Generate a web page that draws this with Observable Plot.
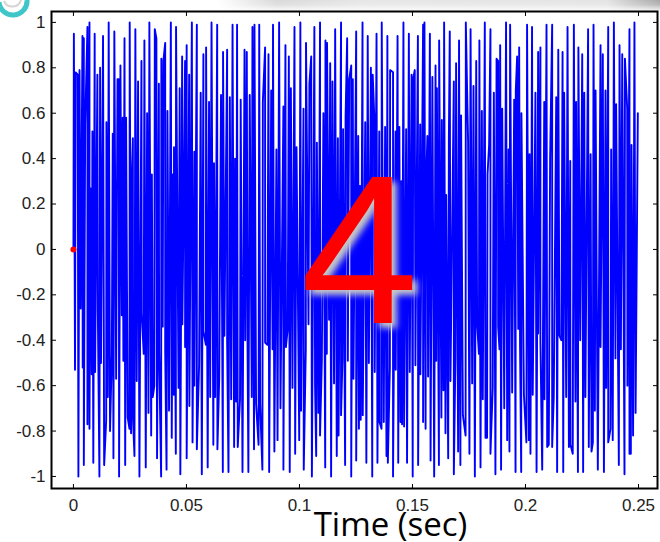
<!DOCTYPE html>
<html>
<head>
<meta charset="utf-8">
<script src="https://cdn.jsdelivr.net/npm/d3@7"></script>
<script src="https://cdn.jsdelivr.net/npm/@observablehq/plot@0.6"></script>
<style>
  html, body { margin: 0; padding: 0; background: #fff; }
  #page { position: relative; width: 660px; height: 542px; overflow: hidden; }
  #band { position: absolute; left: 0; top: 0; width: 660px; height: 12px;
    background:
      linear-gradient(to bottom, rgba(255,255,255,0) 0%, rgba(255,255,255,0.2) 40%, #fff 100%),
      linear-gradient(to right, #fff 0%, #fff 33%, #d9d9d9 42%, #e6e6e6 55%, #e3e3e3 92%, #a8a8a8 100%); }
  #curl { position: absolute; left: 0; top: 0; }
  #chart { position: absolute; left: 0; top: 0; }
</style>
</head>
<body>
<div id="page">
  <div id="band"></div>
  <svg id="curl" width="40" height="22"><path d="M-1,2 A14,14 0 0 0 27,0" fill="none" stroke="#3fc6c9" stroke-width="5"/><path d="M4,1 A9,9 0 0 0 21,0" fill="none" stroke="#d5d5d5" stroke-width="2"/></svg>
  <div id="chart"></div>
</div>
<script>
// Key "4" tone: upper crests and lower troughs of the waveform, [time (s), amplitude]
const startSample = [0, 0];
const crests = [
  [0.0002,0.95],[0.0010,0.78],[0.0019,0.77],[0.0027,0.79],[0.0040,0.94],[0.0046,0.93],[0.0052,0.55],[0.0062,0.98],
  [0.0071,1.00],[0.0075,0.27],[0.0084,0.52],[0.0094,0.95],[0.0106,0.77],[0.0118,0.80],[0.0131,0.94],[0.0146,0.56],
  [0.0156,1.00],[0.0174,0.51],[0.0181,0.96],[0.0195,0.75],[0.0201,0.75],[0.0208,0.81],[0.0218,0.58],[0.0226,0.93],
  [0.0233,0.58],[0.0249,1.00],[0.0258,0.30],[0.0263,0.49],[0.0274,0.97],[0.0286,0.74],[0.0301,0.83],[0.0314,0.92],
  [0.0326,0.60],[0.0336,1.00],[0.0347,0.33],[0.0360,0.97],[0.0367,0.93],[0.0378,0.73],[0.0389,0.84],[0.0398,0.83],
  [0.0406,0.91],[0.0416,0.61],[0.0431,1.00],[0.0440,0.33],[0.0445,0.45],[0.0454,0.98],[0.0470,0.71],[0.0481,0.85],
  [0.0494,0.83],[0.0501,0.90],[0.0512,0.77],[0.0524,1.00],[0.0535,0.43],[0.0546,0.99],[0.0563,0.69],[0.0575,0.86],
  [0.0587,0.89],[0.0600,0.65],[0.0611,1.00],[0.0622,0.38],[0.0636,0.99],[0.0653,0.68],[0.0662,0.87],[0.0680,0.88],
  [0.0692,0.67],[0.0704,0.99],[0.0715,0.40],[0.0724,0.99],[0.0740,0.66],[0.0757,0.88],[0.0767,0.87],[0.0780,0.68],
  [0.0792,0.98],[0.0801,0.99],[0.0822,0.99],[0.0838,0.65],[0.0848,0.89],[0.0863,0.86],[0.0875,0.70],[0.0883,0.99],
  [0.0898,0.44],[0.0910,1.00],[0.0929,0.63],[0.0938,0.90],[0.0953,0.85],[0.0962,0.71],[0.0978,0.98],[0.0987,0.45],
  [0.1004,1.00],[0.1018,0.62],[0.1029,0.91],[0.1044,0.73],[0.1052,0.85],[0.1066,0.98],[0.1077,0.47],[0.1091,1.00],
  [0.1106,0.60],[0.1115,0.92],[0.1122,0.91],[0.1136,0.82],[0.1146,0.74],[0.1158,0.97],[0.1170,0.49],[0.1184,1.00],
  [0.1193,0.53],[0.1204,0.58],[0.1211,0.93],[0.1220,0.75],[0.1229,0.81],[0.1236,0.75],[0.1251,0.96],[0.1260,0.50],
  [0.1268,0.28],[0.1279,1.00],[0.1291,0.56],[0.1302,0.94],[0.1316,0.80],[0.1324,0.77],[0.1332,0.56],[0.1341,0.95],
  [0.1353,0.52],[0.1364,1.00],[0.1379,0.54],[0.1389,0.94],[0.1401,0.79],[0.1414,0.78],[0.1425,0.52],[0.1434,0.94],
  [0.1442,0.54],[0.1451,0.30],[0.1460,1.00],[0.1472,0.53],[0.1484,0.95],[0.1496,0.77],[0.1503,0.75],[0.1510,0.79],
  [0.1524,0.94],[0.1534,0.55],[0.1547,0.99],[0.1553,1.00],[0.1560,0.28],[0.1566,0.50],[0.1577,0.95],[0.1588,0.76],
  [0.1602,0.81],[0.1608,0.71],[0.1618,0.92],[0.1630,0.57],[0.1640,1.00],[0.1649,0.24],[0.1661,0.49],[0.1665,0.96],
  [0.1683,0.74],[0.1693,0.82],[0.1706,0.92],[0.1715,0.59],[0.1736,1.00],[0.1746,0.48],[0.1757,0.97],[0.1770,0.72],
  [0.1782,0.83],[0.1796,0.92],[0.1807,0.61],[0.1820,1.00],[0.1832,0.33],[0.1839,0.46],[0.1845,0.97],[0.1860,0.69],
  [0.1872,0.84],[0.1879,0.83],[0.1888,0.90],[0.1897,0.62],[0.1914,1.00],[0.1925,0.44],[0.1932,0.99],[0.1950,0.66],
  [0.1957,0.70],[0.1963,0.85],[0.1972,0.89],[0.1982,0.60],[0.2007,0.99],[0.2018,0.42],[0.2029,0.98],[0.2044,0.69],
  [0.2056,0.87],[0.2066,0.89],[0.2083,0.65],[0.2093,0.99],[0.2109,0.40],[0.2118,0.99],[0.2136,0.67],[0.2145,0.88],
  [0.2164,0.87],[0.2171,0.69],[0.2186,0.98],[0.2198,0.39],[0.2214,0.99],[0.2224,0.65],[0.2234,0.89],[0.2251,0.86],
  [0.2260,0.69],[0.2277,0.97],[0.2288,0.42],[0.2301,0.99],[0.2310,0.70],[0.2332,0.90],[0.2342,0.86],[0.2354,0.70],
  [0.2366,0.98],[0.2379,0.44],[0.2391,1.00],[0.2401,0.64],[0.2416,0.90],[0.2428,0.86],[0.2440,0.84],[0.2450,0.62],
  [0.2460,0.97],[0.2469,0.46],[0.2482,1.00],[0.2497,0.60]
];
const troughs = [
  [0.0007,-0.53],[0.0022,-1.00],[0.0032,-0.26],[0.0041,-0.52],[0.0046,-0.95],[0.0062,-0.77],[0.0071,-0.79],[0.0081,-0.55],
  [0.0088,-0.94],[0.0096,-0.54],[0.0108,-0.27],[0.0115,-1.00],[0.0122,-0.50],[0.0136,-0.95],[0.0145,-0.75],[0.0152,-0.65],
  [0.0162,-0.80],[0.0170,-0.46],[0.0177,-0.92],[0.0189,-0.57],[0.0202,-1.00],[0.0214,-0.29],[0.0221,-0.49],[0.0229,-0.95],
  [0.0240,-0.74],[0.0248,-0.79],[0.0255,-0.81],[0.0263,-0.73],[0.0270,-0.91],[0.0280,-0.58],[0.0292,-1.00],[0.0302,-0.28],
  [0.0311,-0.46],[0.0320,-0.96],[0.0332,-0.72],[0.0344,-0.82],[0.0351,-0.65],[0.0358,-0.60],[0.0370,-0.92],[0.0379,-0.45],
  [0.0388,-1.00],[0.0395,-0.34],[0.0406,-0.45],[0.0412,-0.97],[0.0423,-0.71],[0.0435,-0.83],[0.0444,-0.64],[0.0453,-0.90],
  [0.0465,-0.61],[0.0473,-0.99],[0.0482,-0.33],[0.0494,-0.43],[0.0501,-0.92],[0.0513,-0.69],[0.0527,-0.85],[0.0535,-0.60],
  [0.0546,-0.88],[0.0556,-0.51],[0.0568,-0.99],[0.0575,-0.36],[0.0586,-0.42],[0.0594,-0.96],[0.0605,-0.65],[0.0619,-0.86],
  [0.0627,-0.65],[0.0637,-0.88],[0.0645,-0.57],[0.0661,-0.98],[0.0668,-0.38],[0.0680,-0.40],[0.0686,-0.98],[0.0698,-0.66],
  [0.0711,-0.87],[0.0720,-0.67],[0.0727,-0.87],[0.0737,-0.66],[0.0748,-0.98],[0.0760,-0.40],[0.0770,-0.38],[0.0774,-0.98],
  [0.0789,-0.65],[0.0799,-0.88],[0.0808,-0.68],[0.0819,-0.86],[0.0826,-0.68],[0.0836,-0.97],[0.0848,-0.41],[0.0858,-0.42],
  [0.0866,-0.98],[0.0881,-0.44],[0.0889,-0.89],[0.0903,-0.84],[0.0916,-0.70],[0.0929,-0.97],[0.0940,-0.43],[0.0948,-0.35],
  [0.0957,-0.98],[0.0969,-0.61],[0.0981,-0.90],[0.0999,-0.84],[0.1007,-0.71],[0.1019,-0.97],[0.1028,-0.44],[0.1040,-0.33],
  [0.1055,-1.00],[0.1069,-0.60],[0.1074,-0.91],[0.1084,-0.72],[0.1091,-0.82],[0.1099,-0.49],[0.1114,-0.96],[0.1121,-0.46],
  [0.1131,-0.31],[0.1140,-1.00],[0.1153,-0.59],[0.1165,-0.91],[0.1173,-0.82],[0.1184,-0.73],[0.1190,-0.49],[0.1202,-0.95],
  [0.1214,-0.49],[0.1229,-1.00],[0.1239,-0.57],[0.1251,-0.93],[0.1263,-0.79],[0.1271,-0.75],[0.1280,-0.73],[0.1296,-0.94],
  [0.1307,-0.50],[0.1322,-1.00],[0.1333,-0.54],[0.1345,-0.94],[0.1354,-0.76],[0.1363,-0.79],[0.1373,-0.76],[0.1385,-0.91],
  [0.1391,-0.94],[0.1400,-0.52],[0.1414,-1.00],[0.1426,-0.53],[0.1437,-0.94],[0.1447,-0.76],[0.1454,-0.77],[0.1463,-0.78],
  [0.1476,-0.94],[0.1488,-0.54],[0.1501,-1.00],[0.1513,-0.51],[0.1525,-0.95],[0.1535,-0.55],[0.1547,-0.76],[0.1558,-0.79],
  [0.1569,-0.56],[0.1580,-0.93],[0.1596,-1.00],[0.1605,-0.49],[0.1617,-0.95],[0.1628,-0.74],[0.1637,-0.62],[0.1646,-0.81],
  [0.1658,-0.92],[0.1668,-0.58],[0.1683,-0.99],[0.1690,-0.48],[0.1702,-0.89],[0.1712,-0.95],[0.1723,-0.73],[0.1735,-0.82],
  [0.1752,-0.90],[0.1764,-0.59],[0.1776,-1.00],[0.1786,-0.33],[0.1794,-0.46],[0.1801,-0.96],[0.1811,-0.66],[0.1823,-0.83],
  [0.1830,-0.83],[0.1845,-0.90],[0.1855,-0.61],[0.1867,-0.99],[0.1879,-0.34],[0.1885,-0.44],[0.1892,-0.97],[0.1906,-0.70],
  [0.1919,-0.84],[0.1929,-0.89],[0.1941,-0.63],[0.1956,-0.98],[0.1968,-0.35],[0.1976,-0.43],[0.1981,-0.98],[0.1993,-0.64],
  [0.2004,-0.85],[0.2015,-0.84],[0.2022,-0.90],[0.2032,-0.64],[0.2049,-0.98],[0.2056,-0.37],[0.2066,-0.40],[0.2074,-0.97],
  [0.2084,-0.66],[0.2096,-0.87],[0.2103,-0.86],[0.2118,-0.87],[0.2125,-0.65],[0.2140,-0.98],[0.2150,-0.38],[0.2159,-0.40],
  [0.2167,-0.98],[0.2180,-0.65],[0.2192,-0.87],[0.2199,-0.86],[0.2209,-0.90],[0.2221,-0.67],[0.2232,-0.98],[0.2242,-0.40],
  [0.2255,-0.98],[0.2265,-0.65],[0.2280,-0.87],[0.2292,-0.89],[0.2298,-0.85],[0.2307,-0.71],[0.2320,-0.97],[0.2332,-0.43],
  [0.2347,-0.98],[0.2357,-0.61],[0.2366,-0.85],[0.2376,-0.79],[0.2386,-0.84],[0.2398,-0.48],[0.2413,-0.95],[0.2422,-0.44],
  [0.2438,-0.99],[0.2451,-0.60],[0.2460,-0.90],[0.2466,-0.90],[0.2476,-0.82],[0.2487,-0.72]
];

const xTicks = [0, 0.05, 0.1, 0.15, 0.2, 0.25];
const yTicks = [-1, -0.8, -0.6, -0.4, -0.2, 0, 0.2, 0.4, 0.6, 0.8, 1];
const xLabel = "Time (sec)";
const keyDigit = "4";

// one continuous trace, ordered by time
const signal = [startSample, ...crests, ...troughs]
  .map(([t, v]) => ({t, v}))
  .sort((a, b) => a.t - b.t);

const fmt = (d) => String(d);

const chart = Plot.plot({
  width: 660,
  height: 542,
  marginLeft: 51,
  marginRight: 3,
  marginTop: 11,
  marginBottom: 54,
  style: {background: "transparent", fontFamily: "'Liberation Sans', Arial, sans-serif", fontSize: "17px", color: "#222"},
  x: {domain: [-0.0097, 0.2584], label: null},
  y: {domain: [-1.053, 1.048], label: null},
  marks: [
    Plot.line(signal, {x: "t", y: "v", stroke: "#0000ff", strokeWidth: 1.9}),
    Plot.dot([signal[0]], {x: "t", y: "v", fill: "#ff0000", r: 3}),
    // inward tick marks on all four sides
    Plot.axisX({anchor: "bottom", ticks: xTicks, tickSize: -4, fill: "none", stroke: "#000", label: null}),
    Plot.axisX({anchor: "top", ticks: xTicks, tickSize: -4, fill: "none", stroke: "#000", label: null}),
    Plot.axisY({anchor: "left", ticks: yTicks, tickSize: -5, fill: "none", stroke: "#000", label: null}),
    Plot.axisY({anchor: "right", ticks: yTicks, tickSize: -5, fill: "none", stroke: "#000", label: null}),
    // tick labels
    Plot.axisX({anchor: "bottom", ticks: xTicks, tickSize: 0, tickPadding: 10, tickFormat: fmt, fontSize: 17, label: null}),
    Plot.axisY({anchor: "left", ticks: yTicks, tickSize: 0, tickPadding: 6, tickFormat: fmt, fontSize: 17, label: null}),
    Plot.frame({stroke: "#000", strokeWidth: 2}),
    Plot.text([keyDigit], {text: (d) => d, frameAnchor: "middle", dx: 5, dy: 5, fontSize: 212,
      fontFamily: "'Liberation Sans', Arial, sans-serif", fill: "#ff0000", textAnchor: "middle", lineAnchor: "middle"}),
    Plot.text([xLabel], {text: (d) => d, frameAnchor: "bottom", dx: 36, dy: 37, fontSize: 33,
      fontFamily: "'Open Sans', sans-serif", fill: "#000", textAnchor: "middle", lineAnchor: "middle"})
  ]
});

// soft grey shadow behind the big red digit
d3.select(chart).selectAll("text").filter(function () { return this.textContent === keyDigit; })
  .each(function () { this.parentNode.style.filter = "drop-shadow(5px 5px 3px rgba(200,200,200,1))"; });

document.getElementById("chart").appendChild(chart);
</script>
</body>
</html>
